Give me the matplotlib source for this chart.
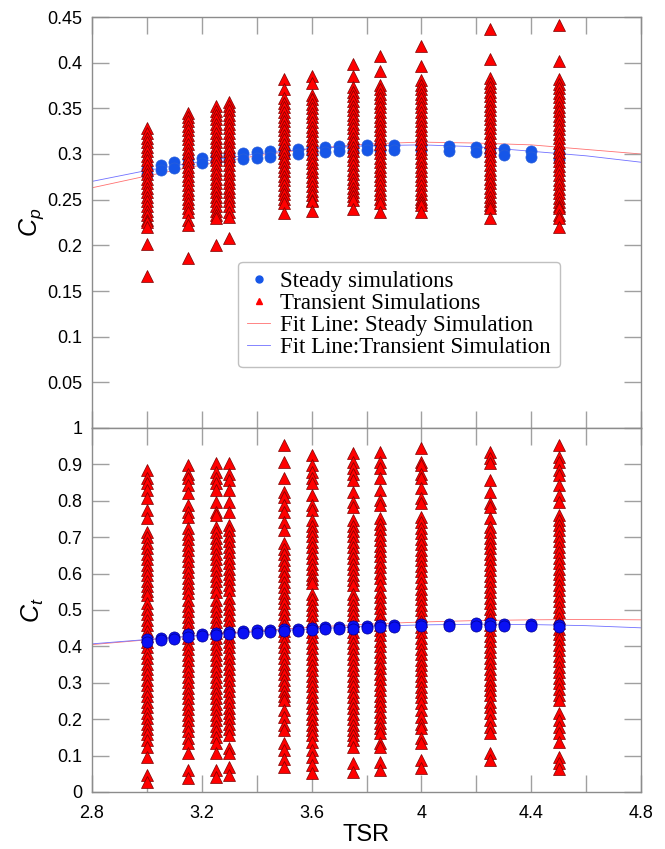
import matplotlib
matplotlib.use("Agg")
import matplotlib.pyplot as plt
from matplotlib.ticker import MultipleLocator, FuncFormatter

# ---- steady simulations (two runs per TSR) ----
steady_tsr = [3.0, 3.05, 3.1, 3.15, 3.2, 3.25, 3.3, 3.35, 3.4, 3.45, 3.5, 3.55, 3.6,
              3.65, 3.7, 3.75, 3.8, 3.85, 3.9, 4.0, 4.1, 4.2, 4.25, 4.3, 4.4, 4.5]
cp_steady_a = [0.284, 0.288, 0.291, 0.294, 0.296, 0.298, 0.299, 0.301, 0.302, 0.303, 0.305, 0.306, 0.307,
               0.308, 0.309, 0.309, 0.310, 0.310, 0.310, 0.310, 0.309, 0.308, 0.307, 0.305, 0.303, 0.301]
cp_steady_b = [0.278, 0.282, 0.285, 0.288, 0.290, 0.292, 0.293, 0.295, 0.296, 0.297, 0.299, 0.300, 0.301,
               0.302, 0.303, 0.303, 0.304, 0.304, 0.304, 0.304, 0.303, 0.302, 0.301, 0.299, 0.297, 0.295]
ct_steady_a = [0.419, 0.423, 0.426, 0.433, 0.434, 0.437, 0.439, 0.442, 0.444, 0.446, 0.448, 0.449, 0.451,
               0.453, 0.454, 0.455, 0.457, 0.458, 0.459, 0.461, 0.462, 0.463, 0.463, 0.462, 0.462, 0.460]
ct_steady_b = [0.413, 0.417, 0.420, 0.427, 0.428, 0.431, 0.433, 0.436, 0.438, 0.440, 0.442, 0.443, 0.445,
               0.447, 0.448, 0.449, 0.451, 0.452, 0.453, 0.455, 0.456, 0.457, 0.457, 0.456, 0.456, 0.454]

# ---- transient simulations ----
transient_tsr = [3.0, 3.15, 3.25, 3.3, 3.5, 3.6, 3.75, 3.85, 4.0, 4.25, 4.5]

cp_300 = [0.328, 0.323, 0.318, 0.313, 0.308, 0.303, 0.298, 0.293, 0.288, 0.283, 0.278, 0.273, 0.268,
          0.263, 0.258, 0.253, 0.248, 0.243, 0.238, 0.233, 0.228, 0.226, 0.220, 0.202, 0.166]
cp_315 = [0.345, 0.341, 0.336, 0.331, 0.326, 0.321, 0.316, 0.311, 0.306, 0.301, 0.296, 0.291, 0.286,
          0.281, 0.276, 0.271, 0.266, 0.261, 0.256, 0.251, 0.246, 0.241, 0.237, 0.228, 0.222, 0.186]
cp_325 = [0.353, 0.347, 0.343, 0.338, 0.333, 0.328, 0.323, 0.318, 0.313, 0.308, 0.303, 0.298, 0.293,
          0.288, 0.283, 0.278, 0.273, 0.268, 0.263, 0.258, 0.253, 0.248, 0.243, 0.238, 0.233, 0.230, 0.200]
cp_330 = [0.357, 0.353, 0.348, 0.343, 0.338, 0.333, 0.328, 0.323, 0.318, 0.313, 0.308, 0.303, 0.298,
          0.293, 0.288, 0.283, 0.278, 0.273, 0.268, 0.263, 0.258, 0.253, 0.248, 0.243, 0.237, 0.231, 0.208]
cp_350 = [0.382, 0.371, 0.361, 0.356, 0.351, 0.346, 0.341, 0.336, 0.331, 0.326, 0.321, 0.316, 0.311,
          0.306, 0.301, 0.296, 0.291, 0.286, 0.281, 0.276, 0.271, 0.266, 0.261, 0.256, 0.251, 0.246, 0.235]
cp_360 = [0.385, 0.378, 0.365, 0.360, 0.355, 0.350, 0.345, 0.340, 0.335, 0.330, 0.325, 0.320, 0.315,
          0.310, 0.305, 0.300, 0.295, 0.290, 0.285, 0.280, 0.275, 0.270, 0.265, 0.260, 0.255, 0.250, 0.248, 0.238]
cp_375 = [0.399, 0.385, 0.373, 0.368, 0.363, 0.358, 0.353, 0.348, 0.343, 0.338, 0.333, 0.328, 0.323,
          0.318, 0.313, 0.308, 0.303, 0.298, 0.293, 0.288, 0.283, 0.278, 0.273, 0.268, 0.263, 0.258, 0.254, 0.250, 0.240]
cp_385 = [0.407, 0.391, 0.376, 0.371, 0.366, 0.361, 0.356, 0.351, 0.346, 0.341, 0.336, 0.331, 0.326,
          0.321, 0.316, 0.311, 0.306, 0.301, 0.296, 0.291, 0.286, 0.281, 0.276, 0.271, 0.266, 0.261, 0.256, 0.251, 0.246, 0.237]
cp_400 = [0.418, 0.396, 0.381, 0.376, 0.371, 0.366, 0.361, 0.356, 0.351, 0.346, 0.341, 0.336, 0.331,
          0.326, 0.321, 0.316, 0.311, 0.306, 0.301, 0.296, 0.291, 0.286, 0.281, 0.276, 0.271, 0.266, 0.261, 0.256, 0.251, 0.247, 0.244, 0.236]
cp_425 = [0.437, 0.404, 0.383, 0.378, 0.373, 0.368, 0.363, 0.358, 0.353, 0.348, 0.343, 0.338, 0.333,
          0.328, 0.323, 0.318, 0.313, 0.308, 0.303, 0.298, 0.293, 0.288, 0.283, 0.278, 0.273, 0.268, 0.263, 0.258, 0.253, 0.248, 0.244, 0.241, 0.230]
cp_450 = [0.441, 0.402, 0.382, 0.377, 0.372, 0.367, 0.362, 0.357, 0.352, 0.347, 0.342, 0.337, 0.332,
          0.327, 0.322, 0.317, 0.312, 0.307, 0.302, 0.297, 0.292, 0.287, 0.282, 0.277, 0.272, 0.267, 0.262, 0.257, 0.252, 0.247, 0.243, 0.241, 0.233, 0.230, 0.220]

ct_300 = [0.885, 0.862, 0.848, 0.830, 0.807, 0.775, 0.752,
          0.715, 0.700, 0.685, 0.670, 0.655, 0.640, 0.625, 0.610, 0.595, 0.580, 0.565, 0.553, 0.541,
          0.518, 0.503, 0.488, 0.473, 0.458, 0.443, 0.428, 0.413, 0.398, 0.383, 0.368, 0.353, 0.338,
          0.323, 0.308, 0.293, 0.278, 0.263, 0.248, 0.233, 0.218, 0.203, 0.188, 0.173, 0.158, 0.143,
          0.124, 0.097, 0.047, 0.028]
ct_315 = [0.898, 0.875, 0.862, 0.843, 0.821, 0.788, 0.770, 0.756,
          0.724, 0.709, 0.694, 0.679, 0.664, 0.649, 0.634, 0.619, 0.604, 0.589, 0.574, 0.560, 0.546,
          0.527, 0.512, 0.497, 0.482, 0.467, 0.452, 0.437, 0.422, 0.407, 0.392, 0.377, 0.362, 0.347,
          0.332, 0.317, 0.302, 0.287, 0.272, 0.257, 0.242, 0.227, 0.212, 0.197, 0.182, 0.167, 0.148,
          0.134, 0.106, 0.060, 0.038]
ct_325 = [0.903, 0.880, 0.862, 0.848, 0.830, 0.797, 0.770, 0.761,
          0.729, 0.714, 0.699, 0.684, 0.669, 0.654, 0.639, 0.624, 0.609, 0.594, 0.579, 0.564, 0.550,
          0.527, 0.512, 0.497, 0.482, 0.467, 0.452, 0.437, 0.422, 0.407, 0.392, 0.377, 0.362, 0.347,
          0.332, 0.317, 0.302, 0.287, 0.272, 0.257, 0.242, 0.227, 0.212, 0.197, 0.182, 0.167, 0.152,
          0.134, 0.106, 0.060, 0.042]
ct_330 = [0.905, 0.875, 0.857, 0.830, 0.797, 0.770,
          0.734, 0.719, 0.704, 0.689, 0.674, 0.659, 0.644, 0.629, 0.614, 0.599, 0.584, 0.569, 0.555,
          0.532, 0.517, 0.502, 0.487, 0.472, 0.457, 0.442, 0.427, 0.412, 0.397, 0.382, 0.367, 0.352,
          0.337, 0.322, 0.307, 0.292, 0.277, 0.262, 0.247, 0.232, 0.217, 0.202, 0.187, 0.172, 0.157,
          0.120, 0.107, 0.070, 0.047]
ct_350 = [0.953, 0.907, 0.862, 0.825, 0.811, 0.788, 0.770, 0.742, 0.720,
          0.683, 0.668, 0.653, 0.638, 0.623, 0.608, 0.593, 0.578, 0.563, 0.548, 0.533, 0.518, 0.503,
          0.488, 0.473, 0.458, 0.443, 0.428, 0.413, 0.398, 0.383, 0.368, 0.353, 0.338, 0.323, 0.308,
          0.293, 0.278, 0.265, 0.253,
          0.225, 0.207, 0.184, 0.170, 0.134, 0.115, 0.092, 0.070]
ct_360 = [0.926, 0.898, 0.880, 0.862, 0.848, 0.816, 0.788, 0.775,
          0.747, 0.732, 0.717, 0.702, 0.687, 0.672, 0.657, 0.642, 0.627, 0.612, 0.597, 0.585, 0.573,
          0.545, 0.530, 0.515, 0.500, 0.485, 0.470, 0.455, 0.440, 0.425, 0.410, 0.395, 0.380, 0.365,
          0.350, 0.335, 0.320, 0.305, 0.290, 0.275, 0.260, 0.245, 0.230, 0.215, 0.200, 0.185, 0.170, 0.157,
          0.138, 0.115, 0.097, 0.074, 0.051]
ct_375 = [0.930, 0.907, 0.889, 0.875, 0.857, 0.825, 0.797, 0.783,
          0.747, 0.732, 0.717, 0.702, 0.687, 0.672, 0.657, 0.642, 0.627, 0.612, 0.597, 0.583, 0.569,
          0.545, 0.530, 0.515, 0.500, 0.485, 0.470, 0.455, 0.440, 0.425, 0.410, 0.395, 0.380, 0.365,
          0.350, 0.335, 0.320, 0.305, 0.290, 0.275, 0.260, 0.245, 0.230, 0.215, 0.200, 0.185, 0.170, 0.157,
          0.143, 0.124, 0.079, 0.056]
ct_385 = [0.935, 0.907, 0.889, 0.862, 0.830, 0.802, 0.788,
          0.752, 0.737, 0.722, 0.707, 0.692, 0.677, 0.662, 0.647, 0.632, 0.617, 0.602, 0.587, 0.569,
          0.550, 0.535, 0.520, 0.505, 0.490, 0.475, 0.460, 0.445, 0.430, 0.415, 0.400, 0.385, 0.370,
          0.355, 0.340, 0.325, 0.310, 0.295, 0.280, 0.265, 0.250, 0.235, 0.220, 0.205, 0.190, 0.175, 0.161,
          0.134, 0.124, 0.083, 0.060]
ct_400 = [0.944, 0.907, 0.898, 0.875, 0.862, 0.834, 0.807, 0.793,
          0.756, 0.741, 0.726, 0.711, 0.696, 0.681, 0.666, 0.651, 0.636, 0.621, 0.606, 0.591, 0.573,
          0.559, 0.544, 0.529, 0.514, 0.499, 0.484, 0.469, 0.454, 0.439, 0.424, 0.409, 0.394, 0.379,
          0.364, 0.349, 0.334, 0.319, 0.304, 0.289, 0.275, 0.262,
          0.244, 0.225, 0.207, 0.188, 0.175, 0.148, 0.134, 0.088, 0.065]
ct_425 = [0.935, 0.917, 0.903, 0.857, 0.825, 0.793, 0.783, 0.752,
          0.729, 0.714, 0.699, 0.684, 0.669, 0.654, 0.639, 0.624, 0.609, 0.594, 0.579, 0.564, 0.549,
          0.534, 0.519, 0.504, 0.489, 0.474, 0.459, 0.444, 0.429, 0.414, 0.399, 0.384, 0.369, 0.354,
          0.339, 0.324, 0.309, 0.294, 0.279, 0.266,
          0.248, 0.234, 0.216, 0.198, 0.179, 0.161, 0.106, 0.088]
ct_450 = [0.953, 0.921, 0.907, 0.885, 0.871, 0.843, 0.816, 0.797, 0.761, 0.747,
          0.734, 0.719, 0.704, 0.689, 0.674, 0.659, 0.644, 0.629, 0.614, 0.599, 0.584, 0.569, 0.554,
          0.539, 0.524, 0.509, 0.494, 0.479, 0.464, 0.449, 0.434, 0.419, 0.404, 0.389, 0.374, 0.359,
          0.344, 0.329, 0.314, 0.299, 0.284, 0.266,
          0.253, 0.216, 0.198, 0.179, 0.161, 0.138, 0.097, 0.079, 0.062]

cp_columns = [cp_300, cp_315, cp_325, cp_330, cp_350, cp_360, cp_375, cp_385, cp_400, cp_425, cp_450]
ct_columns = [ct_300, ct_315, ct_325, ct_330, ct_350, ct_360, ct_375, ct_385, ct_400, ct_425, ct_450]

# ---- fit lines ----
fit_tsr = [2.8, 3.0, 3.2, 3.4, 3.6, 3.8, 4.0, 4.2, 4.4, 4.6, 4.8]
cp_fit_steady = [0.263, 0.276, 0.288, 0.298, 0.306, 0.311, 0.313, 0.312, 0.310, 0.305, 0.300]
cp_fit_transient = [0.270, 0.282, 0.292, 0.300, 0.306, 0.309, 0.310, 0.308, 0.303, 0.298, 0.291]
ct_fit_steady = [0.405, 0.418, 0.431, 0.443, 0.453, 0.461, 0.467, 0.471, 0.473, 0.474, 0.473]
ct_fit_transient = [0.407, 0.419, 0.430, 0.440, 0.448, 0.455, 0.459, 0.461, 0.460, 0.457, 0.451]

plt.rcParams['font.family'] = ['Liberation Sans', 'DejaVu Sans']
plt.rcParams['mathtext.fontset'] = 'custom'
plt.rcParams['mathtext.it'] = 'Liberation Sans:italic'
plt.rcParams['mathtext.rm'] = 'Liberation Sans'

fig = plt.figure(figsize=(6.65, 8.49), dpi=100)
L, R = 92 / 665, 641 / 665
ax1 = fig.add_axes([L, 1 - 428 / 849, R - L, (428 - 17) / 849])
ax2 = fig.add_axes([L, 1 - 792 / 849, R - L, (792 - 428) / 849])

red = '#ff0000'
red_edge = '#7a0000'
tri_ms = 8

# top panel: Cp
ax1.plot(fit_tsr, cp_fit_steady, color='#ff7070', lw=0.6, zorder=1)
ax1.plot(fit_tsr, cp_fit_transient, color='#7070ff', lw=0.6, zorder=1)
ax1.plot(steady_tsr, cp_steady_a, 'o', color='#1656e8', mec='#2a5fd8', mew=0.5, ms=8, zorder=2)
ax1.plot(steady_tsr, cp_steady_b, 'o', color='#1656e8', mec='#2a5fd8', mew=0.5, ms=8, zorder=2)
for x, col in zip(transient_tsr, cp_columns):
    ax1.plot([x] * len(col), col, '^', color=red, mec=red_edge, mew=0.5, ms=tri_ms, zorder=3)

# bottom panel: Ct
ax2.plot(fit_tsr, ct_fit_steady, color='#ff7070', lw=0.6, zorder=1)
ax2.plot(fit_tsr, ct_fit_transient, color='#7070ff', lw=0.6, zorder=1)
for x, col in zip(transient_tsr, ct_columns):
    ax2.plot([x] * len(col), col, '^', color=red, mec=red_edge, mew=0.5, ms=tri_ms, zorder=2)
ax2.plot(steady_tsr, ct_steady_a, 'o', color='#0a10f5', mec='#000090', mew=0.5, ms=8, zorder=3)
ax2.plot(steady_tsr, ct_steady_b, 'o', color='#0a10f5', mec='#000090', mew=0.5, ms=8, zorder=3)

fmt = FuncFormatter(lambda v, p: '%g' % round(v, 3))
for ax in (ax1, ax2):
    ax.set_xlim(2.8, 4.8)
    ax.xaxis.set_major_locator(MultipleLocator(0.4))
    ax.xaxis.set_minor_locator(MultipleLocator(0.2))
    ax.tick_params(which='both', direction='in', top=True, right=True, length=12,
                   width=1, color='#a0a0a0', labelsize=13)
    ax.tick_params(axis='y', pad=7)
    ax.tick_params(axis='x', pad=9)
    ax.yaxis.set_major_formatter(fmt)
    ax.xaxis.set_major_formatter(fmt)
    for s in ax.spines.values():
        s.set_color('#8c8c8c')
        s.set_linewidth(1)

ax1.set_ylim(0, 0.45)
ax1.set_yticks([0.05, 0.1, 0.15, 0.2, 0.25, 0.3, 0.35, 0.4, 0.45])
ax1.tick_params(axis='x', labelbottom=False)
ax1.set_ylabel('$C_p$', fontsize=18)
ax1.yaxis.set_label_coords(-0.083, 0.5)

ax2.set_ylim(0, 1)
ax2.yaxis.set_major_locator(MultipleLocator(0.1))
ax2.set_ylabel('$C_t$', fontsize=18)
ax2.yaxis.set_label_coords(-0.083, 0.5)
ax2.set_xlabel('TSR', fontsize=17, labelpad=2)

# legend
h_steady = plt.Line2D([], [], ls='none', marker='o', color='#1656e8', ms=5)
h_trans = plt.Line2D([], [], ls='none', marker='^', color=red, ms=5)
h_fit_s = plt.Line2D([], [], color='#ff7070', lw=0.6)
h_fit_t = plt.Line2D([], [], color='#7070ff', lw=0.6)
leg = ax1.legend([h_steady, h_trans, h_fit_s, h_fit_t],
                 ['Steady simulations', 'Transient Simulations',
                  'Fit Line: Steady Simulation', 'Fit Line:Transient Simulation'],
                 loc='upper left', bbox_to_anchor=(0.266, 0.405),
                 prop={'family': 'Liberation Serif', 'size': 16.5},
                 handlelength=1.0, handletextpad=0.45, labelspacing=0.05,
                 borderpad=0.4, fancybox=True, framealpha=1, edgecolor='#c0c0c0',
                 borderaxespad=0)
leg.get_frame().set_linewidth(1)

fig.savefig('out.png', dpi=100)
